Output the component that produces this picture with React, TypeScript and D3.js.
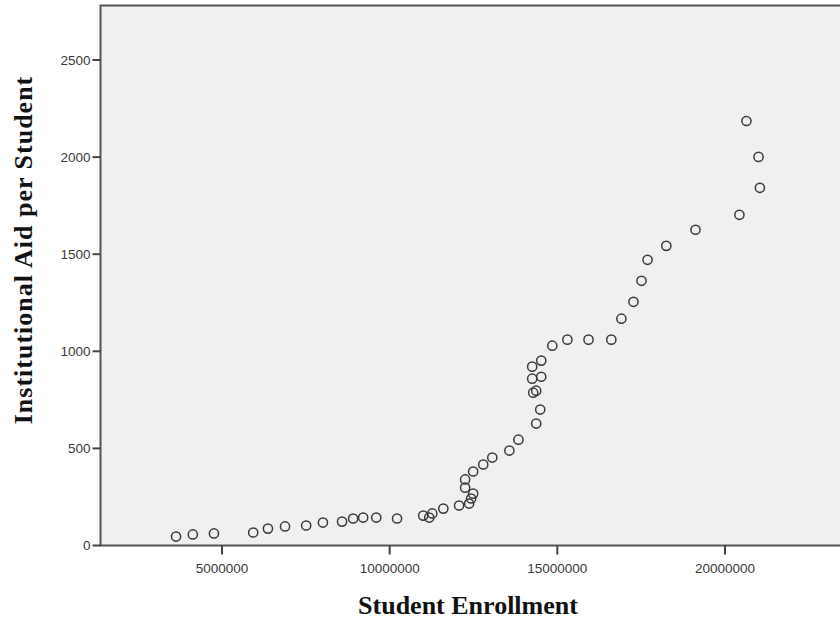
import React from "react";
import * as d3 from "d3";

const enrollment = [
  3630000, 4130000, 4760000, 5930000, 6370000, 6880000, 7510000, 8010000, 8580000, 8910000,
  9210000, 9600000, 10220000, 11000000, 11180000, 11270000, 11600000, 12070000, 12250000, 12250000,
  12370000, 12430000, 12490000, 12490000, 12790000, 13060000, 13570000, 13840000, 14370000, 14490000,
  14250000, 14250000, 14520000, 14520000, 14280000, 14370000, 14850000, 15300000, 15930000, 16610000,
  16910000, 17270000, 17510000, 17690000, 18250000, 19120000, 20430000, 20640000, 21000000, 21040000,
];
const aidPerStudent = [
  46, 57, 62, 67, 87, 98, 103, 118, 123, 139,
  144, 144, 139, 154, 144, 165, 190, 206, 298, 340,
  216, 242, 267, 381, 417, 453, 489, 545, 628, 700,
  921, 859, 952, 869, 787, 797, 1029, 1060, 1060, 1060,
  1168, 1255, 1363, 1471, 1543, 1626, 1703, 2186, 2001, 1842,
];
const xTicks = [5000000, 10000000, 15000000, 20000000];
const yTicks = [0, 500, 1000, 1500, 2000, 2500];
const xTitle = "Student Enrollment";
const yTitle = "Institutional Aid per Student";

export default function App() {
  const W = 840, H = 624;
  const left = 100.5, top = 5.5, right = 850, bottom = 545.5;
  const pxPerM = (725 - 222) / 15;
  const x0 = 222 - 5 * pxPerM;
  const x = d3.scaleLinear()
    .domain([((left - x0) / pxPerM) * 1e6, ((right - x0) / pxPerM) * 1e6])
    .range([left, right]);
  const pxPerUnit = (bottom - 60) / 2500;
  const y = d3.scaleLinear()
    .domain([0, (bottom - top) / pxPerUnit])
    .range([bottom, top]);
  const pts = enrollment.map((e, i) => [e, aidPerStudent[i]]);
  const axisColor = "#555";
  const tickFont = "'Liberation Sans', Arial, sans-serif";
  const serif = "'Liberation Serif', 'DejaVu Serif', serif";
  return (
    <svg width={W} height={H} style={{ position: "absolute", left: 0, top: 0, background: "#fff" }}>
      <rect x={left} y={top} width={right - left} height={bottom - top} fill="#f0f0f0" stroke={axisColor} strokeWidth={2} />
      {yTicks.map((t) => (
        <g key={t}>
          <line x1={left - 8} x2={left} y1={y(t)} y2={y(t)} stroke="#444" strokeWidth={2} />
          <text x={left - 10} y={y(t)} dy="0.36em" textAnchor="end" fontSize={13.5} fill="#3a3a3a" fontFamily={tickFont}>{t}</text>
        </g>
      ))}
      {xTicks.map((t) => (
        <g key={t}>
          <line x1={x(t)} x2={x(t)} y1={bottom} y2={bottom + 9} stroke="#444" strokeWidth={2} />
          <text x={x(t)} y={bottom + 27} textAnchor="middle" fontSize={13.5} fill="#3a3a3a" fontFamily={tickFont}>{t}</text>
        </g>
      ))}
      {pts.map((p, i) => (
        <circle key={i} cx={x(p[0])} cy={y(p[1])} r={4.6} fill="none" stroke="#3a3a3a" strokeWidth={1.5} />
      ))}
      <text x={468} y={614} textAnchor="middle" fontSize={26} fontWeight="bold" fill="#111" fontFamily={serif}>{xTitle}</text>
      <text transform={`translate(32,250) rotate(-90)`} textAnchor="middle" fontSize={26} fontWeight="bold" letterSpacing={1} fill="#111" fontFamily={serif}>{yTitle}</text>
    </svg>
  );
}
